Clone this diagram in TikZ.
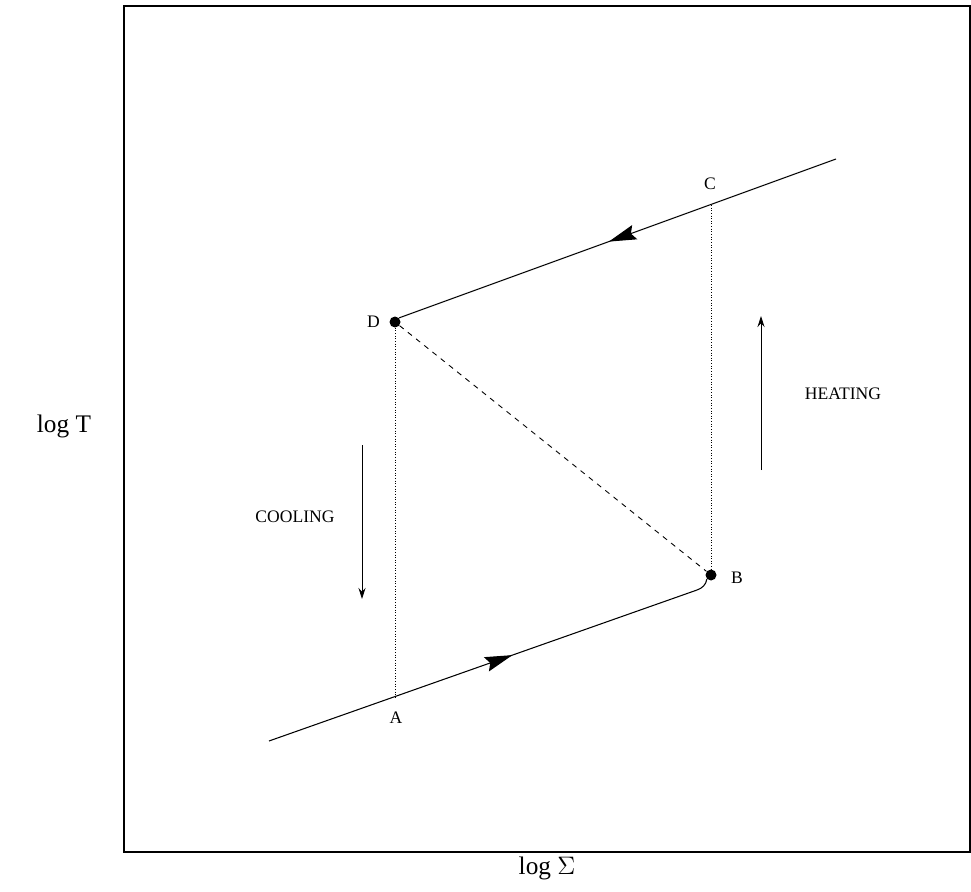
\documentclass[tikz,border=0pt]{standalone}
\usepackage{fontspec}
\setmainfont{Liberation Serif}
\usetikzlibrary{arrows.meta,decorations.markings}
\tikzset{
  branch/.style={line width=0.6pt},
  fwdmark/.style={postaction={decorate},decoration={markings,
    mark=at position #1 with {\arrow{Stealth[length=5.5mm,width=3mm,inset=0.8mm]}}}},
  backmark/.style={postaction={decorate},decoration={markings,
    mark=at position #1 with {\arrowreversed{Stealth[length=5.5mm,width=3mm,inset=0.8mm]}}}},
  jump/.style={densely dotted,line width=0.5pt},
  trans/.style={dashed,line width=0.5pt},
  dot/.style={circle,fill=black,inner sep=0pt,minimum size=2.2mm},
  ptlabel/.style={font=\normalsize},
  flow/.style={-{Stealth[length=2.2mm,width=1.4mm]},line width=0.5pt},
  flowlabel/.style={font=\normalsize},
  axislabel/.style={font=\Large}
}
\begin{document}
\begin{tikzpicture}[x=0.02cm,y=-0.02cm]
  \useasboundingbox (0,0) rectangle (971,892);
  % frame
  \draw[line width=0.9pt] (124,6) rectangle (970,852);
  % turning points
  \node[dot] (D) at (395,322) {};
  \node[dot] (B) at (711,575) {};
  \coordinate (A) at (395,697);
  \coordinate (C) at (711,205);
  \coordinate (lowstart) at (269,741);
  \coordinate (lowbend) at (697,590);
  \coordinate (upend) at (836,159);
  % stable branches
  \draw[branch,fwdmark=0.55] (lowstart) -- (lowbend) to[out=19,in=-100] (B.south west);
  \draw[branch,backmark=0.48] (D.north east) -- (upend);
  % jumps
  \draw[jump] (D) -- (A);
  \draw[jump] (C) -- (B);
  \draw[trans] (D) -- (B);
  % labels
  \node[ptlabel] (lA) at (396,718) {A};
  \node[ptlabel,anchor=west] (lB) at (725,578) {B};
  \node[ptlabel] (lC) at (710,184) {C};
  \node[ptlabel,anchor=east] (lD) at (386,322) {D};
  % heating and cooling
  \coordinate (ctop) at (362,445);
  \coordinate (cbot) at (362,599);
  \draw[flow] (ctop) -- (cbot);
  \node[flowlabel] (cool) at (295,517) {COOLING};
  \coordinate (hbot) at (761,470);
  \coordinate (htop) at (761,316);
  \draw[flow] (hbot) -- (htop);
  \node[flowlabel] (heat) at (843,394) {HEATING};
  % axes
  \node[axislabel] (ylab) at (64,426) {log T};
  \node[axislabel] (xlab) at (547,868) {log $\Sigma$};
\end{tikzpicture}
\end{document}
